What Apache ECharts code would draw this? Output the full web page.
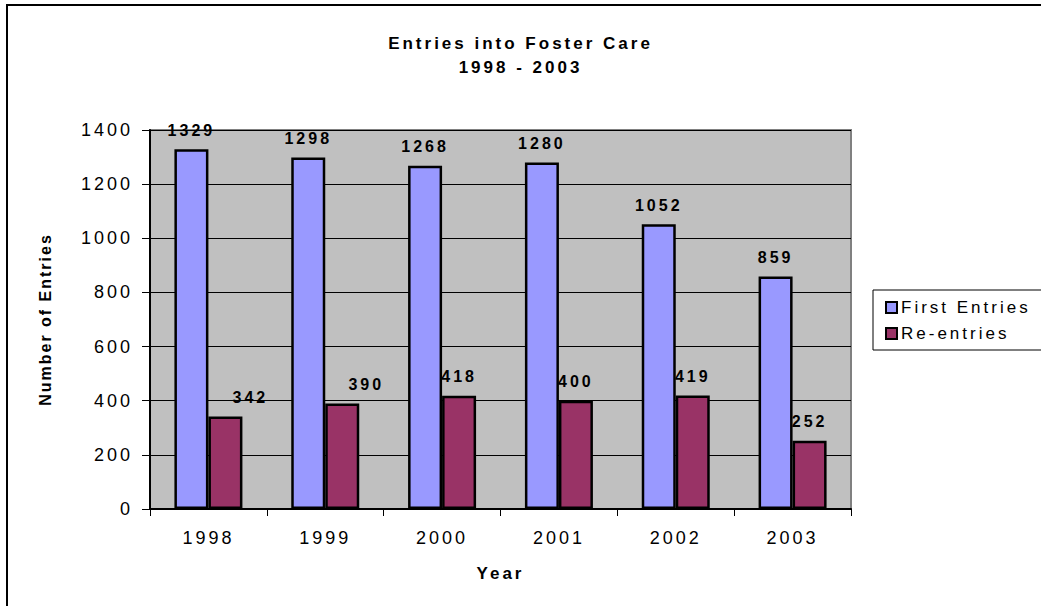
<!DOCTYPE html>
<html>
<head>
<meta charset="utf-8">
<script src="https://cdn.jsdelivr.net/npm/echarts@6/dist/echarts.min.js"></script>
<style>
  html, body { margin: 0; padding: 0; background: #fff; }
  #chart { width: 1041px; height: 606px; }
  #chart text { letter-spacing: 3px; }
  /* the rotated axis title is set a little tighter */
  #chart text[style*="Helvetica"] { letter-spacing: 2px; }
</style>
</head>
<body>
<div id="chart"></div>
<script>
// Entries into foster care, by year
const years = ['1998', '1999', '2000', '2001', '2002', '2003'];
const firstEntries = [1329, 1298, 1268, 1280, 1052, 859];
const reEntries = [342, 390, 418, 400, 419, 252];
const seriesNames = ['First Entries', 'Re-entries'];
const yTicks = { min: 0, max: 1400, step: 200 };

const FONT = '"Liberation Sans", Arial, sans-serif';
const FONT_TIGHT = '"Liberation Sans", Arial, Helvetica, sans-serif';

// The first two re-entry labels sit nudged to the right of their bars
const reLabelShift = { '1998': 25, '1999': 24 };

const chart = echarts.init(document.getElementById('chart'), null, { renderer: 'svg' });

chart.setOption({
  animation: false,
  backgroundColor: '#fff',
  title: {
    text: 'Entries into Foster Care\n1998 - 2003',
    left: 'center',
    top: 26,
    textStyle: { fontFamily: FONT, fontSize: 17, fontWeight: 'bold', color: '#000', lineHeight: 24 }
  },
  legend: {
    orient: 'vertical',
    left: 873,
    top: 290,
    backgroundColor: '#fff',
    borderColor: '#000',
    borderWidth: 1,
    padding: [9, 60, 8, 12],
    itemGap: 9,
    itemWidth: 11,
    itemHeight: 11,
    icon: 'rect',
    itemStyle: { borderColor: '#000', borderWidth: 2 },
    textStyle: { fontFamily: FONT, fontSize: 17, color: '#000', padding: [0, 0, 0, -1] },
    data: seriesNames
  },
  grid: {
    left: 150, right: 190, top: 130, bottom: 97,
    show: true,
    backgroundColor: '#C0C0C0',
    borderColor: '#808080',
    borderWidth: 2
  },
  xAxis: {
    type: 'category',
    data: years,
    name: 'Year',
    nameLocation: 'middle',
    nameGap: 56,
    nameTextStyle: { fontFamily: FONT, fontSize: 17, fontWeight: 'bold', color: '#000' },
    axisLine: { lineStyle: { color: '#000', width: 2 } },
    axisTick: { show: true, length: 7, lineStyle: { color: '#000', width: 1 } },
    axisLabel: { fontFamily: FONT, fontSize: 18, color: '#000', margin: 20 },
    splitLine: { show: false }
  },
  yAxis: {
    type: 'value',
    min: yTicks.min,
    max: yTicks.max,
    interval: yTicks.step,
    name: 'Number of Entries',
    nameLocation: 'middle',
    nameRotate: 90,
    nameGap: 97,
    nameTextStyle: { fontFamily: FONT_TIGHT, fontSize: 16, fontWeight: 'bold', color: '#000' },
    axisLine: { show: true, lineStyle: { color: '#000', width: 2 } },
    axisTick: { show: true, length: 8, lineStyle: { color: '#000', width: 1 } },
    axisLabel: {
      fontFamily: FONT, fontSize: 18, color: '#000', margin: 17,
      formatter: (v) => String(v)
    },
    splitLine: { show: true, lineStyle: { color: '#000', width: 1 } }
  },
  series: [
    {
      name: seriesNames[0],
      type: 'bar',
      data: firstEntries,
      barWidth: 34,
      barGap: '0%',
      itemStyle: { color: '#9999FF', borderColor: '#000', borderWidth: 2.5 },
      label: {
        show: true, position: 'top', distance: 11,
        fontFamily: FONT, fontSize: 16, fontWeight: 'bold', color: '#000'
      }
    },
    {
      name: seriesNames[1],
      type: 'bar',
      data: reEntries.map((v, i) => ({
        value: v,
        label: { offset: [reLabelShift[years[i]] || 0, 0] }
      })),
      barWidth: 34,
      barGap: '0%',
      itemStyle: { color: '#993366', borderColor: '#000', borderWidth: 2.5 },
      label: {
        show: true, position: 'top', distance: 11,
        fontFamily: FONT, fontSize: 16, fontWeight: 'bold', color: '#000'
      }
    }
  ],
  graphic: [
    {
      type: 'polyline',
      silent: true,
      shape: { points: [[7, 606], [7, 5], [1041, 5]] },
      style: { stroke: '#000', lineWidth: 2, fill: null }
    }
  ]
});
</script>
</body>
</html>
